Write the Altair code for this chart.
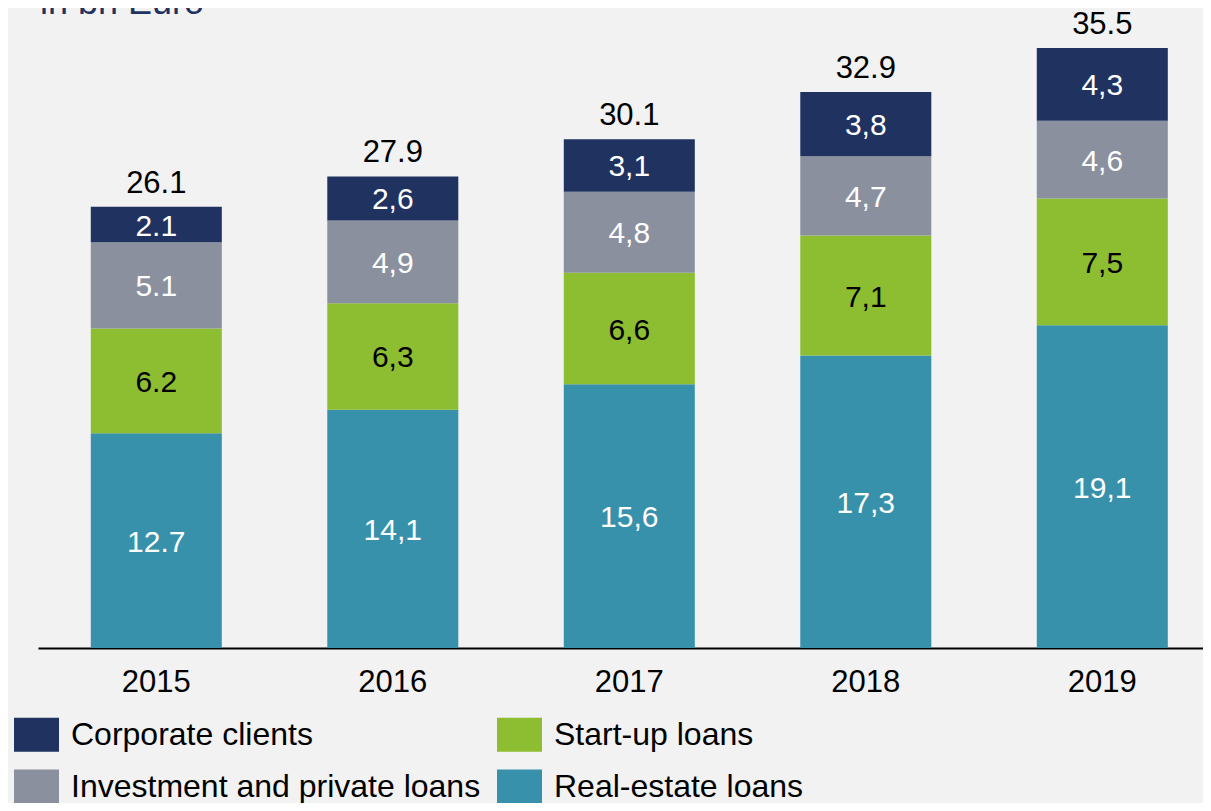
import altair as alt
import pandas as pd

years = ["2015", "2016", "2017", "2018", "2019"]
categories = ["Real-estate loans", "Start-up loans", "Investment and private loans", "Corporate clients"]
real_estate = [12.7, 14.1, 15.6, 17.3, 19.1]
startup = [6.2, 6.3, 6.6, 7.1, 7.5]
investment = [5.1, 4.9, 4.8, 4.7, 4.6]
corporate = [2.1, 2.6, 3.1, 3.8, 4.3]
real_estate_lbl = ["12.7", "14,1", "15,6", "17,3", "19,1"]
startup_lbl = ["6.2", "6,3", "6,6", "7,1", "7,5"]
investment_lbl = ["5.1", "4,9", "4,8", "4,7", "4,6"]
corporate_lbl = ["2.1", "2,6", "3,1", "3,8", "4,3"]
totals = [26.1, 27.9, 30.1, 32.9, 35.5]
totals_lbl = ["26.1", "27.9", "30.1", "32.9", "35.5"]

legend_order = ["Corporate clients", "Investment and private loans", "Start-up loans", "Real-estate loans"]
colors = ["#1f3260", "#8a909e", "#8dbd30", "#3891ab"]

series = [real_estate, startup, investment, corporate]
labels = [real_estate_lbl, startup_lbl, investment_lbl, corporate_lbl]
rows = []
for ci, (cat, vals, lbls) in enumerate(zip(categories, series, labels)):
    for y, v, l in zip(years, vals, lbls):
        rows.append({"year": y, "cat": cat, "value": v, "label": l, "ord": ci})
df = pd.DataFrame(rows)
tot = pd.DataFrame({"year": years, "total": totals, "label": totals_lbl})

FONT = "Liberation Sans, Arial, sans-serif"
W, H = 1165, 636
ymax = 37.63

xenc = alt.X("year:N", title=None, sort=years,
             scale=alt.Scale(paddingInner=0.446, paddingOuter=0.186, align=0.6),
             axis=alt.Axis(labelAngle=0, ticks=False, domainColor="black", domainWidth=2,
                           labelFontSize=31, labelColor="black", labelFont=FONT,
                           labelPadding=19, grid=False))
yscale = alt.Scale(domain=[0, ymax], nice=False, zero=True)

base = alt.Chart(df)

bars = base.mark_bar().encode(
    x=xenc,
    y=alt.Y("value:Q", stack="zero", scale=yscale, axis=None),
    color=alt.Color("cat:N", scale=alt.Scale(domain=legend_order, range=colors),
                    legend=alt.Legend(title=None, orient="none", legendX=-24, legendY=700,
                                      columns=2, symbolType="M-1,-0.756H1V0.756H-1Z",
                                      symbolSize=2025, symbolStrokeWidth=0, symbolOpacity=1,
                                      labelFontSize=32, labelFont=FONT, labelColor="black",
                                      labelOffset=12, rowPadding=12, columnPadding=16,
                                      labelLimit=600, padding=0)),
    order=alt.Order("ord:Q", sort="ascending"),
)

seg_text = base.transform_stack(
    stack="value", groupby=["year"], as_=["y0", "y1"],
    sort=[alt.SortField("ord", order="ascending")]
).transform_calculate(
    mid="(datum.y0 + datum.y1) / 2"
).mark_text(fontSize=30, font=FONT, baseline="middle", align="center", dy=2).encode(
    x=alt.X("year:N", sort=years),
    y=alt.Y("mid:Q", scale=yscale),
    text="label:N",
    color=alt.condition(alt.datum.cat == "Start-up loans", alt.value("black"), alt.value("white")),
)

tot_text = alt.Chart(tot).mark_text(fontSize=31, font=FONT, baseline="alphabetic",
                                    align="center", dy=-14, color="black").encode(
    x=alt.X("year:N", sort=years),
    y=alt.Y("total:Q", scale=yscale),
    text="label:N",
)

title_text = alt.Chart(pd.DataFrame({"t": ["in bn Euro"]})).mark_text(
    fontSize=36, font=FONT, align="left", baseline="alphabetic", color="#1f3260"
).encode(x=alt.value(2), y=alt.value(2), text="t:N")

chart = alt.layer(bars, seg_text, tot_text, title_text).properties(
    width=W, height=H,
    autosize=alt.AutoSizeParams(type="none"),
    padding={"left": 30, "top": 4, "right": 0, "bottom": 155},
).configure(background="#f2f2f2").configure_view(stroke=None)

chart.save("out.html", embed_options={"renderer": "svg", "actions": False})
